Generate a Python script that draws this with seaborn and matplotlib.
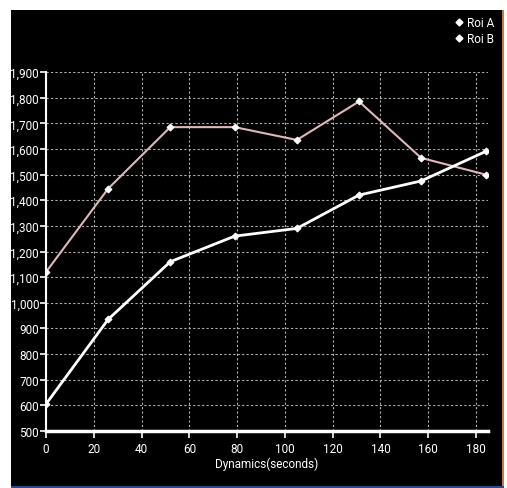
import matplotlib
matplotlib.use("Agg")
import matplotlib.pyplot as plt
import matplotlib.ticker as mticker
from matplotlib.lines import Line2D
from matplotlib.patches import Rectangle
import seaborn as sns
import pandas as pd

# Data
time_s = [0, 26, 52, 79, 105, 131, 157, 184]
roi_a = [1120, 1445, 1685, 1685, 1635, 1785, 1565, 1500]
roi_b = [605, 935, 1160, 1260, 1290, 1420, 1475, 1590]
series_names = ["Roi A", "Roi B"]
x_ticks = [0, 20, 40, 60, 80, 100, 120, 140, 160, 180]
y_ticks = list(range(500, 2000, 100))

df = pd.DataFrame({
    "t": time_s * 2,
    "v": roi_a + roi_b,
    "roi": [series_names[0]] * len(time_s) + [series_names[1]] * len(time_s),
})

sns.set_theme(style="dark")
FONT = ["Roboto", "DejaVu Sans"]
plt.rcParams["font.family"] = FONT
FS = 8.5

fig = plt.figure(figsize=(5.07, 4.89), dpi=100, facecolor="white")
W, H = 507, 489
# black panel
fig.patches.append(Rectangle((11 / W, 1 - 487 / H), (502 - 11) / W, (487 - 11) / H,
                             transform=fig.transFigure, facecolor="black", edgecolor="none", zorder=-2))
# orange right edge
fig.patches.append(Rectangle((502 / W, 1 - 487 / H), 2 / W, (487 - 11) / H,
                             transform=fig.transFigure, facecolor="#c87a3c", edgecolor="none", zorder=-2))
# bottom blue strip
fig.patches.append(Rectangle((11 / W, 0), (504 - 11) / W, 2 / H,
                             transform=fig.transFigure, facecolor="#2a4a8a", edgecolor="none", zorder=-2))

ax = fig.add_axes([46 / W, 57 / H, 442 / W, 359 / H])
ax.set_facecolor("black")

palette = {series_names[0]: "#e0b8b8", series_names[1]: "white"}
sns.lineplot(data=df[df.roi == series_names[0]], x="t", y="v", color=palette[series_names[0]],
             linewidth=1.5, marker="D", markersize=3.5, markerfacecolor="white",
             markeredgecolor="white", ax=ax, legend=False, zorder=3)
sns.lineplot(data=df[df.roi == series_names[1]], x="t", y="v", color=palette[series_names[1]],
             linewidth=2, marker="D", markersize=3.5, markerfacecolor="white",
             markeredgecolor="white", ax=ax, legend=False, zorder=3)

ax.set_xlim(0, 185)
ax.set_ylim(500, 1900)
ax.set_xticks(x_ticks)
ax.set_yticks(y_ticks)
ax.yaxis.set_major_formatter(mticker.FuncFormatter(lambda v, p: f"{int(v):,}"))

ax.grid(True, color="#b0b0b0", linestyle=(0, (2, 2)), linewidth=0.8)
for s in ["top", "right"]:
    ax.spines[s].set_visible(False)
ax.spines["left"].set_color("white")
ax.spines["left"].set_linewidth(1.5)
ax.spines["bottom"].set_color("white")
ax.spines["bottom"].set_linewidth(2.5)
ax.spines["bottom"].set_zorder(4)

ax.tick_params(axis="both", colors="white", labelcolor="white", labelsize=FS,
               width=1.2, direction="out", bottom=True, left=True)
ax.tick_params(axis="x", pad=3, length=5)
ax.tick_params(axis="y", pad=1, length=4)

ax.set_xlabel("Dynamics(seconds)", color="white", fontsize=FS, labelpad=1)
ax.set_ylabel("")

handles = [Line2D([], [], linestyle="none", marker="D", markersize=3.5,
                  markerfacecolor="white", markeredgecolor="white") for _ in series_names]
leg = fig.legend(handles, series_names, loc="upper right", bbox_to_anchor=(503 / W, 1 - 9 / H),
                 frameon=False, fontsize=FS, handletextpad=0.2, labelspacing=0.25,
                 handlelength=1.0, borderpad=0.2)
for t in leg.get_texts():
    t.set_color("white")

fig.savefig("out.png", dpi=100, facecolor="white")
